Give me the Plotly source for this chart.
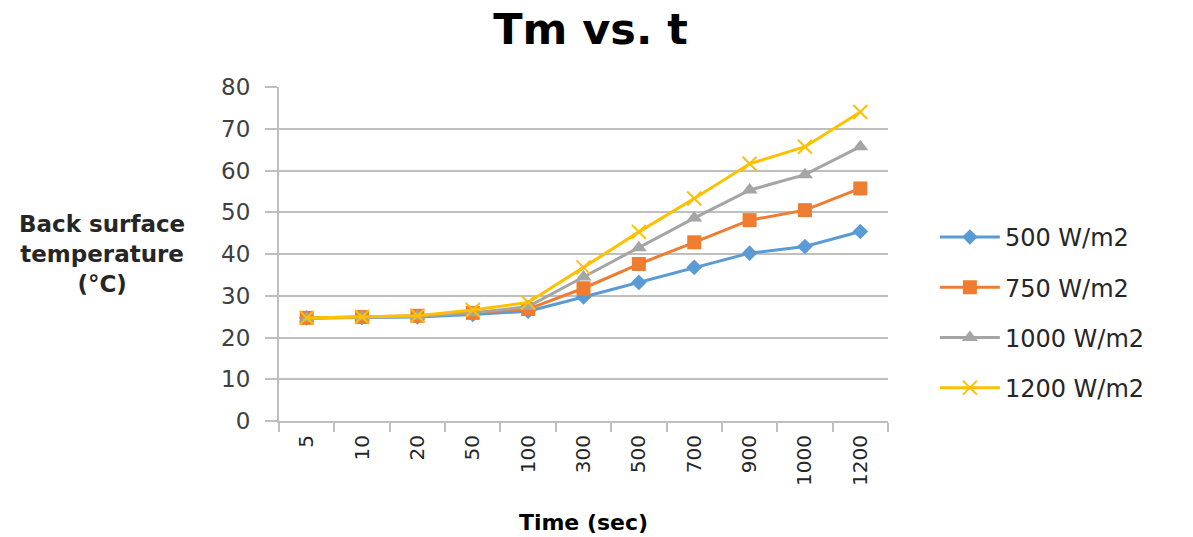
import plotly.graph_objects as go

categories = ["5", "10", "20", "50", "100", "300", "500", "700", "900", "1000", "1200"]
s500 = [24.7, 24.8, 24.9, 25.5, 26.3, 29.7, 33.2, 36.8, 40.2, 41.8, 45.4]
s750 = [24.7, 24.9, 25.2, 25.9, 26.8, 31.8, 37.6, 42.8, 48.1, 50.5, 55.7]
s1000 = [24.6, 24.9, 25.1, 25.9, 27.4, 34.5, 41.5, 48.6, 55.3, 59.0, 65.7]
s1200 = [24.7, 24.9, 25.2, 26.6, 28.4, 36.8, 45.3, 53.3, 61.6, 65.7, 74.0]
names = ["500 W/m2", "750 W/m2", "1000 W/m2", "1200 W/m2"]
colors = ["#5B9BD5", "#ED7D31", "#A5A5A5", "#FFC000"]
symbols = ["diamond", "square", "triangle-up", "x-thin"]
sizes = [12, 14, 14, 14]

FONT = "DejaVu Sans"
fig = go.Figure()
for i, ys in enumerate([s500, s750, s1000, s1200]):
    fig.add_trace(go.Scatter(
        x=categories, y=ys, name=names[i], mode="lines+markers",
        line=dict(color=colors[i], width=3),
        marker=dict(symbol=symbols[i], size=sizes[i], color=colors[i],
                    line=dict(color=colors[i], width=2 if symbols[i] == "x-thin" else 0)),
        legendgroup=names[i],
    ))

fig.update_layout(
    width=1193, height=537,
    margin=dict(l=279, r=305, t=87, b=116),
    paper_bgcolor="white", plot_bgcolor="white",
    font=dict(family=FONT, color="#404040"),
    title=dict(text="<b>Tm vs. t</b>", x=0.495, xanchor="center", y=0.975, yanchor="top",
               font=dict(size=43, color="black", family=FONT)),
    showlegend=True,
    legend=dict(x=1.077, y=0.325, xanchor="left", yanchor="middle",
                font=dict(size=24, color="#262626", family=FONT),
                tracegroupgap=16, traceorder="grouped", itemwidth=60,
                bgcolor="rgba(0,0,0,0)"),
)
fig.update_xaxes(
    type="category", categoryorder="array", categoryarray=categories,
    range=[-0.5, 10.5], automargin=False,
    tickangle=-90, tickfont=dict(size=20, color="#262626"),
    ticks="outside", tickson="boundaries", ticklen=9, tickcolor="#BFBFBF", tickwidth=2,
    ticklabelstandoff=4,
    showline=True, linecolor="#BFBFBF", linewidth=2,
    showgrid=False,
    title=dict(text="<b>Time (sec)</b>", font=dict(size=22, color="black"), standoff=30),
)
fig.update_yaxes(
    range=[0, 80], dtick=10, tickfont=dict(size=23, color="#404040"),
    automargin=False,
    ticks="outside", ticklen=12, tickcolor="#BFBFBF", tickwidth=2,
    ticklabelstandoff=10,
    showline=True, linecolor="#BFBFBF", linewidth=2,
    showgrid=True, gridcolor="#BFBFBF", gridwidth=2,
    zeroline=False,
    title=None,
)
fig.add_annotation(
    text="<b>Back surface<br>temperature<br>(°C)</b>", xref="paper", yref="paper",
    x=-0.291, y=0.5, xanchor="center", yanchor="middle", showarrow=False,
    font=dict(size=23, color="#262626", family=FONT), align="center",
)
fig.write_html("out.html")
